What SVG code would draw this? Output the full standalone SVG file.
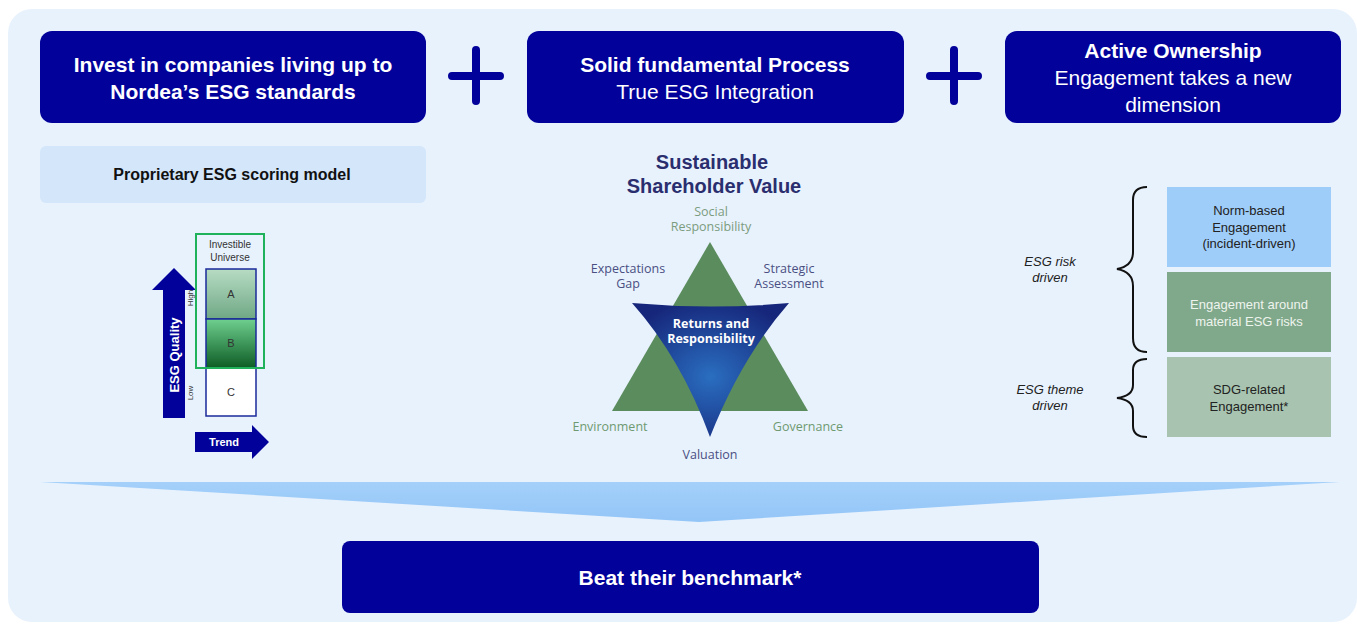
<svg xmlns="http://www.w3.org/2000/svg" width="1357" height="626" viewBox="0 0 1357 626">
<defs>
<style>
.hdr{fill:#02029a}
.ht{font-family:"Liberation Sans",Arial,sans-serif;fill:#fff;text-anchor:middle;font-size:21px}
.b{font-weight:bold}
.plus{stroke:#02029a;stroke-width:8;stroke-linecap:round;fill:none}
.st{font-family:"Open Sans","Noto Sans",sans-serif;font-size:12.5px;text-anchor:middle}
.g{fill:#6f9a70}
.d{fill:#4a4f82}
.rt{font-family:"Liberation Sans",Arial,sans-serif;font-size:13px;text-anchor:middle}
.brace{fill:none;stroke:#111;stroke-width:2}
.it{font-family:"Liberation Sans",Arial,sans-serif;font-size:13px;font-style:italic;text-anchor:middle;fill:#222}
.ssv{font-family:"Liberation Sans",Arial,sans-serif;font-size:20px;font-weight:bold;fill:#2a2e6e;text-anchor:middle}
</style>
<linearGradient id="gA" x1="0" y1="0" x2="0" y2="1"><stop offset="0" stop-color="#b7dcc4"/><stop offset="1" stop-color="#6fa884"/></linearGradient>
<linearGradient id="gB" x1="0" y1="0" x2="0" y2="1"><stop offset="0" stop-color="#6fd08f"/><stop offset="1" stop-color="#0d5c25"/></linearGradient>
<radialGradient id="gStar" cx="0.5" cy="0.55" r="0.6"><stop offset="0" stop-color="#2a6ec0"/><stop offset="1" stop-color="#16267a"/></radialGradient>
<linearGradient id="gChev" x1="0" y1="0" x2="0" y2="1"><stop offset="0" stop-color="#a4d0fa"/><stop offset="1" stop-color="#93c5f7"/></linearGradient>
</defs>
<rect x="0" y="0" width="1357" height="626" fill="#fff"/>
<rect x="8" y="9" width="1349" height="613" rx="24" fill="#e8f2fd"/>

<g id="box-invest">
<rect class="hdr" x="40" y="31" width="386" height="92" rx="12"/>
<text class="ht b" x="233" y="72">Invest in companies living up to</text>
<text class="ht b" x="233" y="99">Nordea’s ESG standards</text>
</g>
<g id="plus1"><path class="plus" d="M452 76H500M476 50V101"/></g>
<g id="box-process">
<rect class="hdr" x="527" y="31" width="377" height="92" rx="12"/>
<text class="ht b" x="715" y="72">Solid fundamental Process</text>
<text class="ht" x="715" y="99">True ESG Integration</text>
</g>
<g id="plus2"><path class="plus" d="M930 76H978M954 50V101"/></g>
<g id="box-ownership">
<rect class="hdr" x="1005" y="31" width="336" height="92" rx="12"/>
<text class="ht b" x="1173" y="58">Active Ownership</text>
<text class="ht" x="1173" y="85">Engagement takes a new</text>
<text class="ht" x="1173" y="112">dimension</text>
</g>

<g id="scoring-model">
<rect x="40" y="146" width="386" height="57" rx="6" fill="#d3e6fa"/>
<text x="232" y="180" font-family="Liberation Sans,Arial,sans-serif" font-size="16" font-weight="bold" text-anchor="middle" fill="#111">Proprietary ESG scoring model</text>
</g>

<g id="esg-chart">
<path d="M163 418V290H152L174 268L196 290H185V418Z" fill="#02029a"/>
<text transform="translate(179 355) rotate(-90)" font-family="Liberation Sans,Arial,sans-serif" font-size="13" font-weight="bold" fill="#fff" text-anchor="middle">ESG Quality</text>
<path d="M195 432H252V425L269 442L252 459V452H195Z" fill="#02029a"/>
<text x="224" y="446" font-family="Liberation Sans,Arial,sans-serif" font-size="11" font-weight="bold" fill="#fff" text-anchor="middle">Trend</text>
<rect x="206" y="269" width="50" height="50" fill="url(#gA)" stroke="#1a2a9a" stroke-width="1.5"/>
<rect x="206" y="319" width="50" height="49" fill="url(#gB)" stroke="#1a2a9a" stroke-width="1.5"/>
<rect x="206" y="368" width="50" height="48" fill="#fff" stroke="#1a2a9a" stroke-width="1.5"/>
<rect x="196" y="234" width="68" height="134" fill="none" stroke="#1fb25a" stroke-width="2"/>
<g font-family="Liberation Sans,Arial,sans-serif" font-size="10" fill="#333" text-anchor="middle">
<text x="230" y="248">Investible</text>
<text x="230" y="261">Universe</text>
<text x="231" y="298" font-size="11">A</text>
<text x="231" y="347" font-size="11">B</text>
<text x="231" y="396" font-size="11">C</text>
<text transform="translate(193 298) rotate(-90)" font-size="8">High</text>
<text transform="translate(193 393) rotate(-90)" font-size="8">Low</text>
</g>
</g>

<g id="ssv-star">
<text class="ssv" x="712" y="169">Sustainable</text>
<text class="ssv" x="714" y="193">Shareholder Value</text>
<path d="M710 242L612 411H808Z" fill="#5b8c5d"/>
<path d="M632 303Q711 310 789 303Q741 358 710 437Q681 358 632 303Z" fill="url(#gStar)"/>
<text class="st" x="711" y="216" fill="#7c9c7e">Social</text>
<text class="st" x="711" y="231" fill="#7c9c7e">Responsibility</text>
<text class="st d" x="628" y="273">Expectations</text>
<text class="st d" x="628" y="288">Gap</text>
<text class="st d" x="789" y="273">Strategic</text>
<text class="st d" x="789" y="288">Assessment</text>
<text class="st g" x="610" y="431">Environment</text>
<text class="st g" x="808" y="431">Governance</text>
<text class="st d" x="710" y="459">Valuation</text>
<text class="st" x="711" y="328" fill="#fff" font-weight="bold">Returns and</text>
<text class="st" x="711" y="343" fill="#fff" font-weight="bold">Responsibility</text>
</g>

<g id="engagement">
<rect x="1167" y="187" width="164" height="80" fill="#9fcdf9"/>
<text class="rt" x="1249" y="215" fill="#222">Norm-based</text>
<text class="rt" x="1249" y="232" fill="#222">Engagement</text>
<text class="rt" x="1249" y="248" fill="#222">(incident-driven)</text>
<rect x="1167" y="272" width="164" height="80" fill="#80a88a"/>
<text class="rt" x="1249" y="309" fill="#eef4ee">Engagement around</text>
<text class="rt" x="1249" y="326" fill="#eef4ee">material ESG risks</text>
<rect x="1167" y="357" width="164" height="80" fill="#a8c4b0"/>
<text class="rt" x="1249" y="394" fill="#222">SDG-related</text>
<text class="rt" x="1249" y="411" fill="#222">Engagement*</text>
</g>

<g id="brace-risk">
<path class="brace" d="M1147 187Q1133 187 1133 200V252Q1133 266 1117 269Q1133 272 1133 286V338Q1133 352 1147 352"/>
<text class="it" x="1050" y="266">ESG risk</text>
<text class="it" x="1050" y="282">driven</text>
</g>
<g id="brace-theme">
<path class="brace" d="M1147 359Q1133 359 1133 370V385Q1133 396 1117 398Q1133 400 1133 411V426Q1133 437 1147 437"/>
<text class="it" x="1050" y="394">ESG theme</text>
<text class="it" x="1050" y="410">driven</text>
</g>

<g id="connectors">
<path d="M40 482H1340L699 522Z" fill="url(#gChev)"/>
</g>

<g id="box-beat">
<rect class="hdr" x="342" y="541" width="697" height="72" rx="8"/>
<text class="ht b" x="690" y="585" font-size="22">Beat their benchmark*</text>
</g>
</svg>
